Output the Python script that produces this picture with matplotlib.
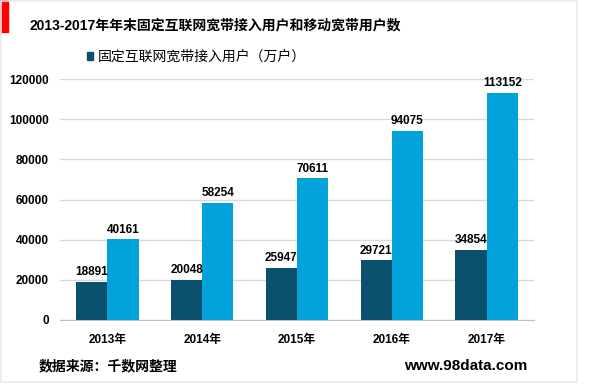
import matplotlib.pyplot as plt
import matplotlib.patches as mpatches
import numpy as np

plt.rcParams['font.family'] = ['Liberation Sans', 'Noto Sans CJK SC', 'DejaVu Sans']

years = ["2013年", "2014年", "2015年", "2016年", "2017年"]
fixed_users = [18891, 20048, 25947, 29721, 34854]
mobile_users = [40161, 58254, 70611, 94075, 113152]
y_ticks = [0, 20000, 40000, 60000, 80000, 100000, 120000]

DARK = "#0b506d"
LIGHT = "#02a3da"

fig = plt.figure(figsize=(6, 3.85), dpi=100)
ax = fig.add_axes([60 / 600, 1 - 320 / 385, 474 / 600, 241 / 385])

x = np.arange(len(years))
w = 0.33
ax.bar(x - w / 2, fixed_users, w, color=DARK, zorder=3)
ax.bar(x + w / 2, mobile_users, w, color=LIGHT, zorder=3)
for xi, v in zip(x, fixed_users):
    ax.text(xi - w / 2, v + 1800, str(v), ha="center", va="bottom", fontsize=8.5, fontweight="bold")
for xi, v in zip(x, mobile_users):
    ax.text(xi + w / 2, v + 1800, str(v), ha="center", va="bottom", fontsize=8.5, fontweight="bold")

ax.set_xlim(-0.5, len(years) - 0.5)
ax.set_ylim(0, 120000)
ax.set_yticks(y_ticks)
ax.set_yticklabels([str(t) for t in y_ticks], fontsize=8.5, fontweight="bold")
ax.set_xticks(x)
ax.set_xticklabels(years, fontsize=8.5, fontweight="bold")
ax.tick_params(length=0)
ax.tick_params(axis="x", pad=10)
ax.tick_params(axis="y", pad=8)
ax.grid(axis="y", color="#d9d9d9", linewidth=1, zorder=0)
for side in ["top", "right", "left"]:
    ax.spines[side].set_visible(False)
ax.spines["bottom"].set_color("#bfbfbf")

fig.legend(handles=[mpatches.Patch(color=DARK)],
           labels=["固定互联网宽带接入用户（万户）"],
           loc="center left", bbox_to_anchor=(74 / 600, 1 - 57 / 385),
           frameon=False, fontsize=10, handlelength=0.5, handleheight=0.5,
           handletextpad=0.3)

fig.patches.append(mpatches.Rectangle((0, 1 - 32 / 385), 8 / 600, 32 / 385,
                                      transform=fig.transFigure, color="#ff0000"))
fig.patches.append(mpatches.Rectangle((0.5 / 600, 3 / 385), 576 / 600, 381 / 385,
                                      transform=fig.transFigure, fill=False,
                                      edgecolor="#ebebeb", linewidth=1.2))
fig.text(30 / 600, 1 - 25 / 385, "2013-2017年年末固定互联网宽带接入用户和移动宽带用户数",
         fontsize=10, fontweight="bold", va="center")
fig.text(39 / 600, 1 - 366 / 385, "数据来源：千数网整理", fontsize=10, fontweight="bold", va="center")
fig.text(404 / 600, 1 - 366 / 385, "www.98data.com", fontsize=11, fontweight="bold", va="center")

fig.savefig("out.png")
